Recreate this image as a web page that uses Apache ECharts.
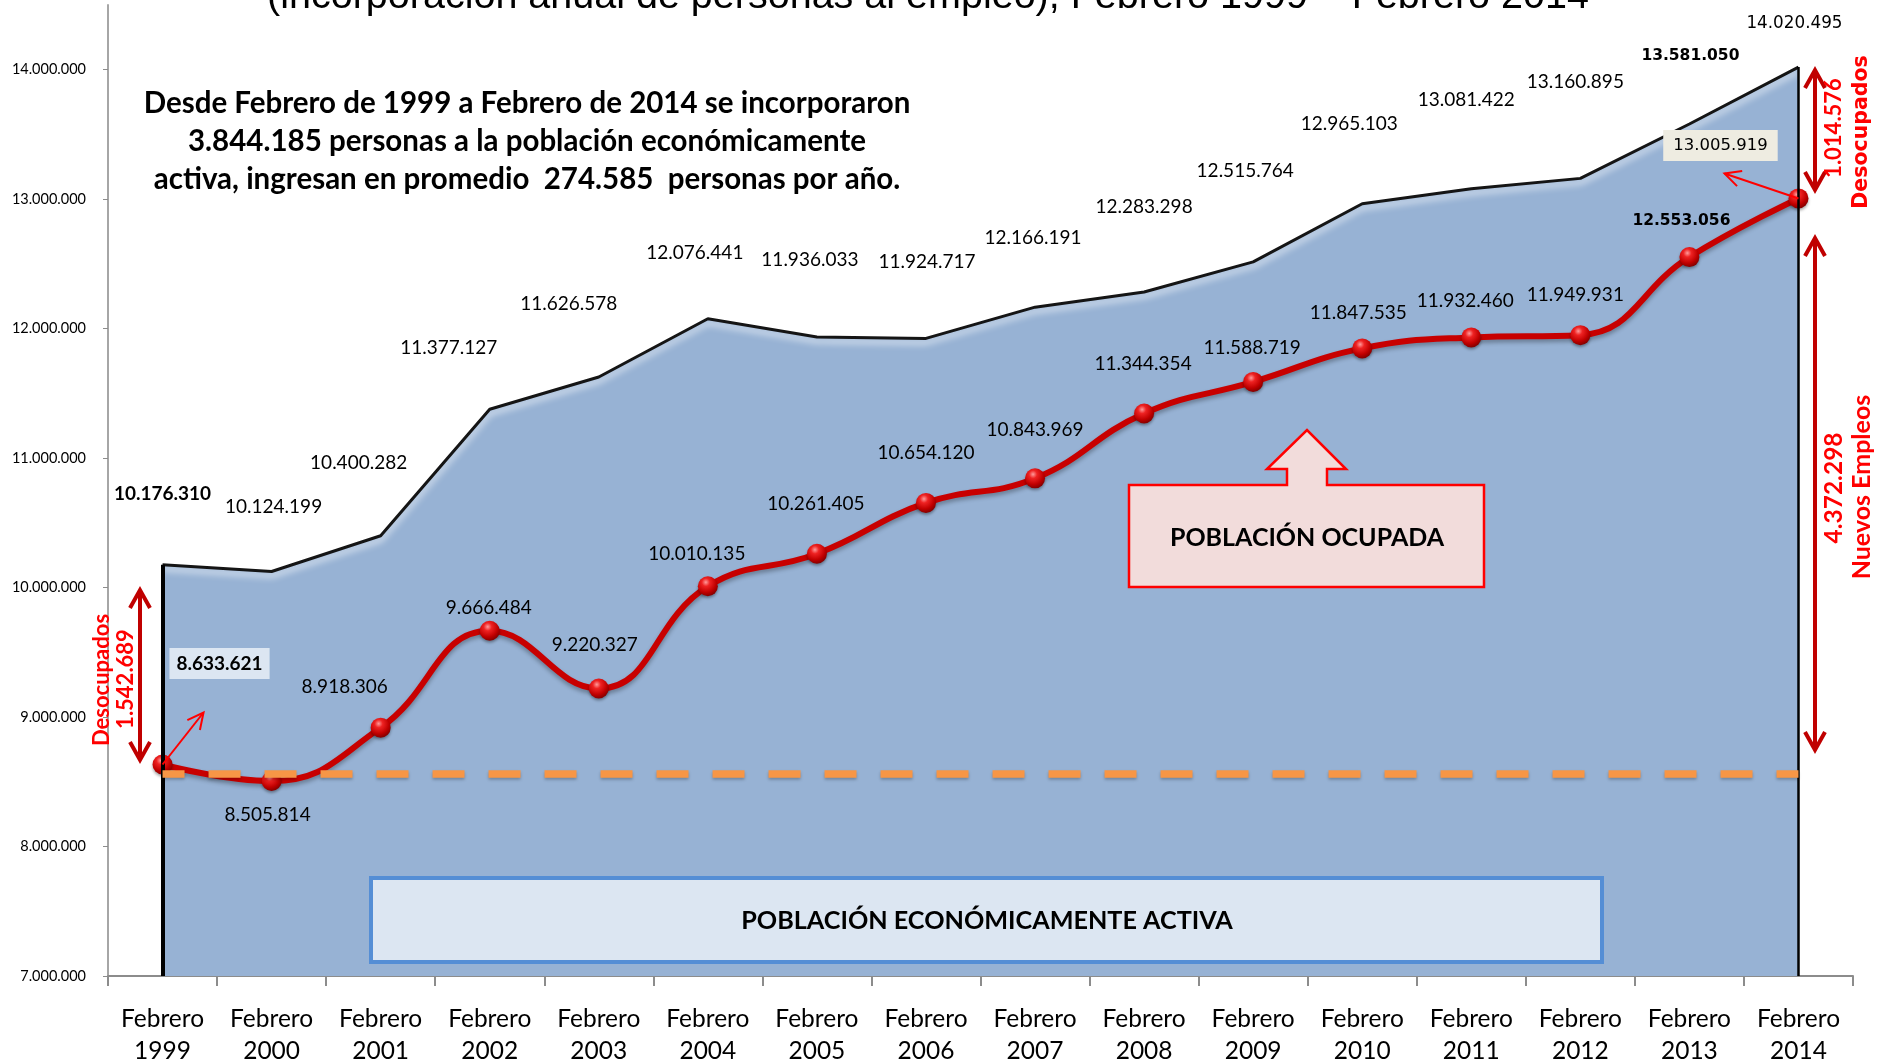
<!DOCTYPE html>
<html>
<head>
<meta charset="utf-8">
<script src="https://cdn.jsdelivr.net/npm/echarts@6/dist/echarts.min.js"></script>
<style>
html,body{margin:0;padding:0;background:#ffffff;}
#c{width:1878px;height:1063px;}
</style>
</head>
<body>
<div id="c"></div>
<script>
// ---------- DATA ----------
const categories = ['Febrero\n1999','Febrero\n2000','Febrero\n2001','Febrero\n2002','Febrero\n2003','Febrero\n2004','Febrero\n2005','Febrero\n2006','Febrero\n2007','Febrero\n2008','Febrero\n2009','Febrero\n2010','Febrero\n2011','Febrero\n2012','Febrero\n2013','Febrero\n2014'];
const peaValues = [10176310,10124199,10400282,11377127,11626578,12076441,11936033,11924717,12166191,12283298,12515764,12965103,13081422,13160895,13581050,14020495];
const ocupadaValues = [8633621,8505814,8918306,9666484,9220327,10010135,10261405,10654120,10843969,11344354,11588719,11847535,11932460,11949931,12553056,13005919];
const referenceLevel = [8560000];
const yAxisMin = 7000000, yAxisMax = 14500000, yAxisStep = 1000000;
const titleText = '(incorporación anual de personas al empleo), Febrero 1999 – Febrero 2014';
const noteLines = ['Desde Febrero de 1999 a Febrero de 2014 se incorporaron','3.844.185 personas a la población económicamente','activa, ingresan en promedio  274.585  personas por año.'];
const peaBoxText = 'POBLACIÓN ECONÓMICAMENTE ACTIVA';
const ocupBoxText = 'POBLACIÓN OCUPADA';
const leftGap = ['Desocupados','1.542.689'];
const rightGapTop = ['1.014.576','Desocupados'];
const rightGapBottom = ['4.372.298','Nuevos Empleos'];

// ---------- LABEL STYLE (not data) ----------
const peaLabelOffsets = [[0,-71],[2,-65],[-22,-73],[-41,-61],[-30,-73],[-13,-66],[-7,-77],[1,-77],[-2,-69],[0,-85],[-8,-91],[-13,-80],[-5,-89],[-5,-96],[1,-68],[-4,-43]];
const ocupLabelOffsets = [[57,-101],[-4,34],[-36,-41],[-1,-23],[-4,-44],[-11,-32],[-1,-50],[0,-50],[0,-48],[-1,-50],[-1,-34],[-4,-36],[-6,-37],[-5,-40],[-8,-36],[-78,-53]];

const fmt = v => String(v).replace(/\B(?=(\d{3})+(?!\d))/g, '.');
const LATO = 'Lato';
const VERD = 'DejaVu Sans';

const chart = echarts.init(document.getElementById('c'), null, {renderer:'canvas'});

const peaData = peaValues.map((v, i) => {
  const lbl = {offset: peaLabelOffsets[i]};
  if (i === 0) { lbl.fontWeight = 'bold'; }
  if (i === 14) { lbl.fontWeight = 'bold'; lbl.fontFamily = VERD; lbl.fontSize = 15.5; }
  if (i === 15) { lbl.fontFamily = VERD; lbl.fontSize = 16.8; }
  return {value: v, label: lbl};
});
const ocupData = ocupadaValues.map((v, i) => {
  const lbl = {offset: ocupLabelOffsets[i]};
  if (i === 0) { lbl.fontWeight = 'bold'; lbl.backgroundColor = '#DCE6F2'; lbl.padding = [6, 7]; }
  if (i === 14) { lbl.fontWeight = 'bold'; lbl.fontFamily = VERD; lbl.fontSize = 15.5; }
  if (i === 15) { lbl.fontFamily = VERD; lbl.fontSize = 16.5; lbl.backgroundColor = '#EEECE1'; lbl.padding = [7, 10]; }
  return {value: v, label: lbl};
});

const sphere = new echarts.graphic.RadialGradient(0.4, 0.3, 0.72, [
  {offset: 0, color: '#ff9a9a'},
  {offset: 0.28, color: '#ee2222'},
  {offset: 0.7, color: '#c00000'},
  {offset: 1, color: '#800000'}
]);

const option = {
  animation: false,
  backgroundColor: '#ffffff',
  grid: {left: 108, right: 25, top: 5, bottom: 87, containLabel: false, outerBoundsMode: 'none'},
  xAxis: {
    type: 'category',
    data: categories,
    boundaryGap: true,
    axisLine: {lineStyle: {color: '#8C8C8C', width: 2}},
    axisTick: {show: true, length: 10, lineStyle: {color: '#8C8C8C', width: 2}},
    axisLabel: {color: '#000', fontFamily: LATO, fontSize: 24.5, lineHeight: 32, margin: 27, interval: 0},
    splitLine: {show: false}
  },
  yAxis: {
    type: 'value',
    min: yAxisMin, max: yAxisMax, interval: yAxisStep,
    axisLine: {show: true, lineStyle: {color: '#A6A6A6', width: 2}},
    axisTick: {show: true, length: 5, lineStyle: {color: '#8C8C8C', width: 1}},
    axisLabel: {color: '#000', fontFamily: LATO, fontSize: 14.5, margin: 22, showMaxLabel: false, formatter: v => fmt(v)},
    splitLine: {show: false}
  },
  series: [
    {
      name: 'Población Económicamente Activa',
      type: 'line',
      data: peaData,
      symbol: 'circle', symbolSize: 2,
      itemStyle: {color: 'rgba(0,0,0,0)', borderWidth: 0},
      lineStyle: {color: '#151515', width: 3, shadowColor: 'rgba(255,255,255,0.95)', shadowBlur: 7, shadowOffsetY: 4},
      areaStyle: {color: '#97B2D4', opacity: 1},
      label: {show: true, position: 'inside', color: '#000', fontFamily: LATO, fontSize: 19, formatter: p => fmt(p.value)},
      markLine: {
        silent: true, symbol: 'none', animation: false,
        label: {show: false},
        lineStyle: {color: '#000', type: 'solid', width: 4},
        data: [
          [{coord: [0, yAxisMin]}, {coord: [0, peaValues[0]]}],
          [{coord: [peaValues.length - 1, yAxisMin]}, {coord: [peaValues.length - 1, peaValues[peaValues.length - 1]], lineStyle: {width: 2.5}}]
        ]
      },
      z: 2
    },
    {
      name: 'Población Ocupada',
      type: 'line',
      data: ocupData,
      smooth: 0.45,
      symbol: 'circle', symbolSize: 20,
      itemStyle: {color: sphere, shadowColor: 'rgba(0,0,0,0.35)', shadowBlur: 3, shadowOffsetY: 2},
      lineStyle: {color: '#C80000', width: 6, shadowColor: 'rgba(0,0,0,0.3)', shadowBlur: 4, shadowOffsetY: 3},
      label: {show: true, position: 'inside', color: '#000', fontFamily: LATO, fontSize: 19, formatter: p => fmt(p.value)},
      z: 3
    },
    {
      name: 'Referencia',
      type: 'line',
      data: [],
      markLine: {
        silent: true, symbol: 'none', animation: false,
        label: {show: false},
        lineStyle: {color: '#F79646', width: 7.5, type: [32, 24], dashOffset: 10, shadowColor: 'rgba(0,0,0,0.25)', shadowBlur: 3, shadowOffsetY: 2},
        data: [[{coord: [0, referenceLevel[0]]}, {coord: [categories.length - 1, referenceLevel[0]]}]]
      },
      z: 4
    }
  ]
};
chart.setOption(option);

// ---------- ANNOTATIONS ----------
function head(x1, y1, x2, y2, len, half) {
  const dx = x2 - x1, dy = y2 - y1, L = Math.hypot(dx, dy);
  const ux = dx / L, uy = dy / L, nx = -uy, ny = ux;
  return [[x2 - ux * len + nx * half, y2 - uy * len + ny * half], [x2, y2], [x2 - ux * len - nx * half, y2 - uy * len - ny * half]];
}
function arrowEls(x1, y1, x2, y2, color, width, len, half, both) {
  const els = [
    {type: 'polyline', shape: {points: [[x1, y1], [x2, y2]]}, style: {stroke: color, lineWidth: width, fill: null}, z: 20},
    {type: 'polyline', shape: {points: head(x1, y1, x2, y2, len, half)}, style: {stroke: color, lineWidth: width, fill: null, lineJoin: 'miter'}, z: 20}
  ];
  if (both) els.push({type: 'polyline', shape: {points: head(x2, y2, x1, y1, len, half)}, style: {stroke: color, lineWidth: width, fill: null}, z: 20});
  return els;
}
function vtext(x, y, text, font, color) {
  return {type: 'text', x: x, y: y, rotation: Math.PI / 2, z: 20,
    style: {text: text, font: font, fill: color, align: 'center', verticalAlign: 'middle', textAlign: 'center', textVerticalAlign: 'middle'}};
}

const p0 = chart.convertToPixel({seriesIndex: 1}, [0, ocupadaValues[0]]);
const pN = chart.convertToPixel({seriesIndex: 1}, [ocupadaValues.length - 1, ocupadaValues[ocupadaValues.length - 1]]);

const els = [];
// title (cut at top)
els.push({type: 'text', x: 928, y: 17, z: 20,
  style: {text: titleText, font: '39.5px "Liberation Sans"', fill: '#000', align: 'center', verticalAlign: 'bottom', textAlign: 'center', textVerticalAlign: 'bottom'}});
// note block
els.push({type: 'text', x: 527, y: 84, z: 20,
  style: {text: noteLines.join('\n'), font: 'bold 29.5px Lato', lineHeight: 38, fill: '#000', align: 'center', verticalAlign: 'top', textAlign: 'center', textVerticalAlign: 'top'}});
// PEA box
els.push({type: 'rect', shape: {x: 371, y: 878, width: 1231, height: 84}, style: {fill: '#DCE6F2', stroke: '#558ED5', lineWidth: 4}, z: 15});
els.push({type: 'text', x: 987, y: 921, z: 16,
  style: {text: peaBoxText, font: 'bold 25.2px Lato', fill: '#000', align: 'center', verticalAlign: 'middle', textAlign: 'center', textVerticalAlign: 'middle'}});
// Ocupada callout
els.push({type: 'polygon', z: 15,
  shape: {points: [[1129,485],[1287,485],[1287,469],[1267,469],[1307,430],[1346,469],[1327,469],[1327,485],[1484,485],[1484,587],[1129,587]]},
  style: {fill: '#F2DCDB', stroke: '#FF0000', lineWidth: 2.5}});
els.push({type: 'text', x: 1307, y: 538, z: 16,
  style: {text: ocupBoxText, font: 'bold 25px Lato', fill: '#000', align: 'center', verticalAlign: 'middle', textAlign: 'center', textVerticalAlign: 'middle'}});
// thin arrows from points to labels
arrowEls(p0[0], p0[1], p0[0] + 41, p0[1] - 52, '#FF0000', 2, 16, 8, false).forEach(e => els.push(e));
arrowEls(pN[0], pN[1], pN[0] - 74, pN[1] - 25, '#FF0000', 2, 16, 8, false).forEach(e => els.push(e));
// double arrows
arrowEls(140, 590, 140, 760, '#C00000', 4, 18, 10, true).forEach(e => els.push(e));
arrowEls(1815, 70, 1815, 190, '#C00000', 4, 18, 10, true).forEach(e => els.push(e));
arrowEls(1815, 238, 1815, 750, '#C00000', 4, 18, 10, true).forEach(e => els.push(e));
// rotated texts
els.push(vtext(102, 680, leftGap[0], 'bold 22px Lato', '#FF0000'));
els.push(vtext(126, 679, leftGap[1], 'bold 22px Lato', '#FF0000'));
els.push(vtext(1834, 128, rightGapTop[0], 'bold 22px Lato', '#FF0000'));
els.push(vtext(1862, 132, rightGapTop[1], 'bold 20.5px "DejaVu Sans"', '#FF0000'));
els.push(vtext(1834, 488, rightGapBottom[0], 'bold 24.5px Lato', '#FF0000'));
els.push(vtext(1862, 487, rightGapBottom[1], 'bold 25px Lato', '#FF0000'));

chart.setOption({graphic: {elements: els}});
</script>
</body>
</html>
